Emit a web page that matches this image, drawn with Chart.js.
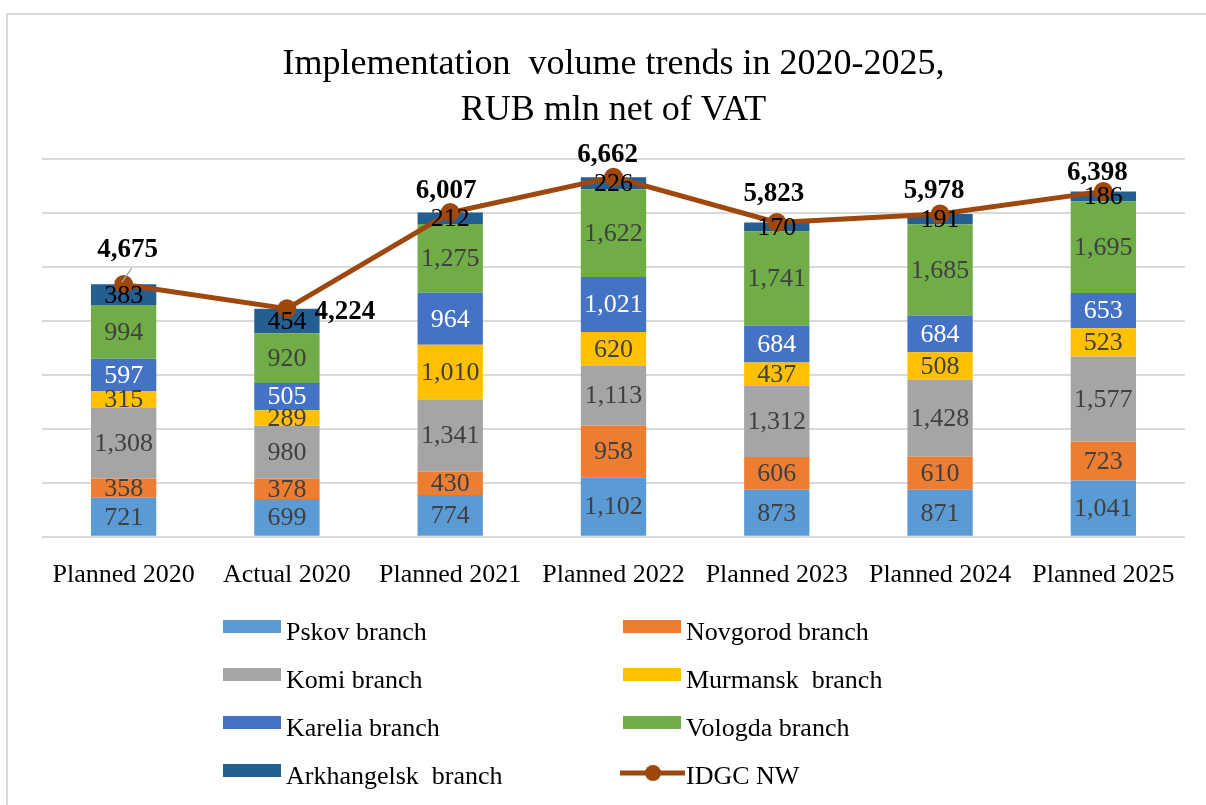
<!DOCTYPE html>
<html>
<head>
<meta charset="utf-8">
<script src="https://cdn.jsdelivr.net/npm/chart.js@4.4.1/dist/chart.umd.min.js"></script>
<style>
  html, body { margin: 0; padding: 0; background: #fff; }
  #wrap { position: relative; width: 1206px; height: 805px; overflow: hidden; }
  #frame { position: absolute; left: 6px; top: 13px; width: 1300px; height: 900px; border: 2px solid #d9d9d9; }
  canvas { position: absolute; left: 0; top: 0; }
</style>
</head>
<body>
<div id="wrap">
  <div id="frame"></div>
  <canvas id="myChart" width="1206" height="805"></canvas>
</div>
<script>
const categories = ["Planned 2020", "Actual 2020", "Planned 2021", "Planned 2022", "Planned 2023", "Planned 2024", "Planned 2025"];

const pskov = [721, 699, 774, 1102, 873, 871, 1041];
const novgorod = [358, 378, 430, 958, 606, 610, 723];
const komi = [1308, 980, 1341, 1113, 1312, 1428, 1577];
const murmansk = [315, 289, 1010, 620, 437, 508, 523];
const karelia = [597, 505, 964, 1021, 684, 684, 653];
const vologda = [994, 920, 1275, 1622, 1741, 1685, 1695];
const arkhangelsk = [383, 454, 212, 226, 170, 191, 186];
const idgcNW = [4675, 4224, 6007, 6662, 5823, 5978, 6398];

const titleLines = ["Implementation  volume trends in 2020-2025,", "RUB mln net of VAT"];

// where the total labels sit relative to their point (dx, dy)
const totalOffsets = [[4, -34], [58, 3], [-4, -21], [-6, -22], [-3, -28], [-6, -23], [-6, -18]];

const serif = '"Liberation Serif", "Times New Roman", serif';

function fmt(v) {
  return v.toLocaleString("en-US");
}

function barSet(label, data, color, textColor) {
  return {
    type: "bar",
    label: label,
    data: data,
    backgroundColor: color,
    borderWidth: 0,
    order: 1,
    labelColor: textColor,
  };
}

const datasets = [
  barSet("Pskov branch", pskov, "#5B9BD5", "#404040"),
  barSet("Novgorod branch", novgorod, "#ED7D31", "#404040"),
  barSet("Komi branch", komi, "#A5A5A5", "#404040"),
  barSet("Murmansk  branch", murmansk, "#FFC000", "#404040"),
  barSet("Karelia branch", karelia, "#4472C4", "#ffffff"),
  barSet("Vologda branch", vologda, "#70AD47", "#404040"),
  barSet("Arkhangelsk  branch", arkhangelsk, "#255E91", "#000000"),
  {
    type: "line",
    label: "IDGC NW",
    data: idgcNW,
    stack: "total",
    borderColor: "#9E480E",
    backgroundColor: "#9E480E",
    borderWidth: 5,
    pointRadius: 7,
    pointBackgroundColor: "#9E480E",
    pointBorderColor: "#9E480E",
    tension: 0,
    order: 0,
  },
];

const valueLabels = {
  id: "valueLabels",
  afterDatasetsDraw(chart) {
    const ctx = chart.ctx;
    ctx.save();
    ctx.textAlign = "center";
    ctx.textBaseline = "middle";
    chart.data.datasets.forEach((ds, di) => {
      const meta = chart.getDatasetMeta(di);
      if (ds.type === "line") {
        ctx.font = "bold 27px " + serif;
        ctx.fillStyle = "#000";
        meta.data.forEach((pt, i) => {
          const off = totalOffsets[i];
          const lx = pt.x + off[0];
          const ly = pt.y + off[1];
          if (i === 0) {
            ctx.strokeStyle = "#a6a6a6";
            ctx.lineWidth = 1.5;
            ctx.beginPath();
            ctx.moveTo(lx + 4, ly + 18);
            ctx.lineTo(pt.x - 2, pt.y - 2);
            ctx.stroke();
          }
          ctx.fillText(fmt(ds.data[i]), lx, ly);
        });
      } else {
        ctx.font = "26px " + serif;
        ctx.fillStyle = ds.labelColor;
        meta.data.forEach((bar, i) => {
          ctx.fillText(fmt(ds.data[i]), bar.x, (bar.y + bar.base) / 2 + 1);
        });
      }
    });
    ctx.restore();
  },
};

const gridLegend = {
  id: "gridLegend",
  afterDraw(chart) {
    const ctx = chart.ctx;
    const colX = [223, 623];
    const rowY = [633, 681, 729, 777];
    ctx.save();
    ctx.font = "26px " + serif;
    ctx.textAlign = "left";
    ctx.textBaseline = "middle";
    chart.data.datasets.forEach((ds, i) => {
      const x = colX[i % 2];
      const y = rowY[Math.floor(i / 2)];
      if (ds.type === "line") {
        ctx.strokeStyle = ds.borderColor;
        ctx.lineWidth = 5;
        ctx.beginPath();
        ctx.moveTo(x - 3, y - 4);
        ctx.lineTo(x + 62, y - 4);
        ctx.stroke();
        ctx.fillStyle = ds.borderColor;
        ctx.beginPath();
        ctx.arc(x + 30, y - 4, 8, 0, Math.PI * 2);
        ctx.fill();
      } else {
        ctx.fillStyle = ds.backgroundColor;
        ctx.fillRect(x, y - 13, 58, 13);
      }
      ctx.fillStyle = "#000";
      ctx.fillText(ds.label, x + 63, y);
    });
    ctx.restore();
  },
};

const config = {
  data: {
    labels: categories,
    datasets: datasets,
  },
  options: {
    responsive: false,
    animation: false,
    devicePixelRatio: 1,
    layout: {
      padding: { left: 42, right: 21, top: 0, bottom: 191 },
    },
    datasets: {
      bar: { barPercentage: 0.4, categoryPercentage: 1 },
    },
    scales: {
      x: {
        stacked: true,
        grid: { display: false, drawTicks: false },
        border: { display: false },
        ticks: {
          color: "#000",
          padding: 23,
          font: { family: serif, size: 26 },
        },
      },
      y: {
        stacked: true,
        min: 0,
        max: 7000,
        ticks: { display: false, stepSize: 1000 },
        grid: { color: "#d9d9d9", lineWidth: 2, drawTicks: false },
        border: { display: false },
      },
    },
    plugins: {
      legend: { display: false },
      tooltip: { enabled: false },
      title: {
        display: true,
        text: titleLines,
        color: "#000",
        font: { family: serif, size: 36, weight: "normal", lineHeight: 1.29 },
        padding: { top: 41, bottom: 25 },
      },
    },
  },
  plugins: [valueLabels, gridLegend],
};

const myChart = new Chart(document.getElementById("myChart"), config);
</script>
</body>
</html>
